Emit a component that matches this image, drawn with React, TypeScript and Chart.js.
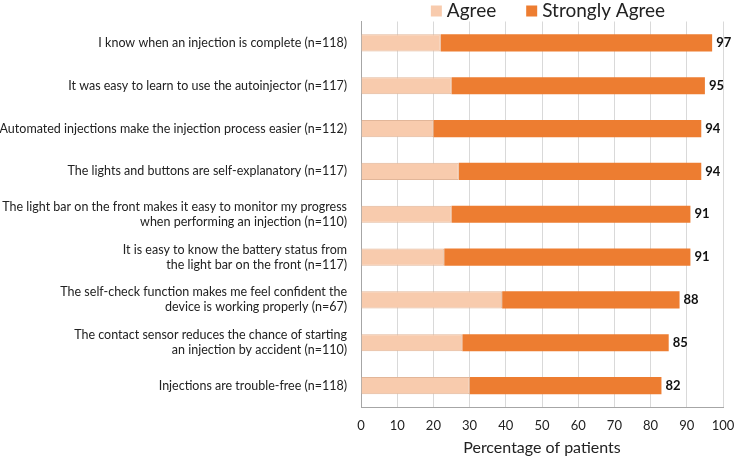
import React, { useEffect, useRef } from "react";
import { Chart, registerables } from "chart.js";

Chart.register(...registerables);

const categories: (string | string[])[] = [
  "I know when an injection is complete (n=118)",
  "It was easy to learn to use the autoinjector (n=117)",
  "Automated injections make the injection process easier (n=112)",
  "The lights and buttons are self-explanatory (n=117)",
  ["The light bar on the front makes it easy to monitor my progress", "when performing an injection (n=110)"],
  ["It is easy to know the battery status from", "the light bar on the front (n=117)"],
  ["The self-check function makes me feel confident the", "device is working properly (n=67)"],
  ["The contact sensor reduces the chance of starting", "an injection by accident (n=110)"],
  "Injections are trouble-free (n=118)",
];

const seriesNames = ["Agree", "Strongly Agree"];
const seriesColors = ["#F8CBAD", "#ED7D31"];
const agree = [22, 25, 20, 27, 25, 23, 39, 28, 30];
const stronglyAgree = [75, 70, 74, 67, 66, 68, 49, 57, 53];
const totalLabels = ["97", "95", "94", "94", "91", "91", "88", "85", "82"];
const xTicks = [0, 10, 20, 30, 40, 50, 60, 70, 80, 90, 100];

const FONT = "Lato, 'Noto Sans', sans-serif";

const totalsPlugin = {
  id: "totals",
  afterDatasetsDraw(chart: any) {
    const meta = chart.getDatasetMeta(1);
    const ctx = chart.ctx;
    ctx.save();
    ctx.font = `bold 13px ${FONT}`;
    ctx.fillStyle = "#111";
    ctx.textAlign = "left";
    ctx.textBaseline = "middle";
    meta.data.forEach((el: any, i: number) => {
      ctx.fillText(totalLabels[i], el.x + 4, el.y);
    });
    ctx.restore();
  },
};

const legendPlugin = {
  id: "customLegend",
  afterDraw(chart: any) {
    const ctx = chart.ctx;
    const area = chart.chartArea;
    ctx.save();
    ctx.font = `19px ${FONT}`;
    ctx.textBaseline = "middle";
    ctx.textAlign = "left";
    const box = 11;
    const gap = 5;
    const itemGap = 30;
    const widths = seriesNames.map((n) => box + gap + ctx.measureText(n).width);
    const total = widths.reduce((a, b) => a + b, 0) + itemGap * (widths.length - 1);
    let x = (area.left + area.right) / 2 + 6 - total / 2;
    const cy = 11;
    seriesNames.forEach((n, i) => {
      ctx.fillStyle = seriesColors[i];
      ctx.fillRect(x, cy - box / 2, box, box);
      ctx.fillStyle = "#222";
      ctx.fillText(n, x + box + gap, cy);
      x += widths[i] + itemGap;
    });
    ctx.restore();
  },
};

export default function App() {
  const ref = useRef<HTMLCanvasElement>(null);
  useEffect(() => {
    document.body.style.margin = "0";
    const chart = new Chart(ref.current!, {
      type: "bar",
      data: {
        labels: categories,
        datasets: [
          {
            label: seriesNames[0],
            data: agree,
            backgroundColor: seriesColors[0],
            borderColor: "#E2B699",
            borderWidth: 1,
            categoryPercentage: 1,
            barPercentage: 0.4,
          },
          {
            label: seriesNames[1],
            data: stronglyAgree,
            backgroundColor: seriesColors[1],
            borderColor: seriesColors[1],
            borderWidth: 0,
            categoryPercentage: 1,
            barPercentage: 0.4,
          },
        ],
      },
      options: {
        indexAxis: "y",
        animation: false,
        responsive: false,
        maintainAspectRatio: false,
        layout: { padding: { top: 16, right: 11, bottom: 0, left: 0 } },
        plugins: {
          legend: { display: false },
          tooltip: { enabled: false },
        },
        scales: {
          x: {
            stacked: true,
            min: 0,
            max: 100,
            afterBuildTicks: (s: any) => {
              s.ticks = xTicks.map((v) => ({ value: v }));
            },
            afterFit: (s: any) => {
              s.paddingLeft = 0;
              s.paddingRight = 0;
              s.height = 61;
            },
            grid: { color: "#D9D9D9", drawTicks: false },
            border: { color: "#A6A6A6" },
            ticks: { font: { family: FONT, size: 13 }, color: "#222", padding: 11 },
            title: {
              display: true,
              text: "Percentage of patients",
              font: { family: FONT, size: 16 },
              color: "#222",
              padding: { top: 4, bottom: 11 },
            },
          },
          y: {
            stacked: true,
            grid: { display: false, drawTicks: false },
            border: { color: "#A6A6A6" },
            afterFit: (s: any) => {
              s.width = 361;
            },
            ticks: { font: { family: FONT, size: 12.5 }, color: "#222", padding: 14, autoSkip: false },
          },
        },
      },
      plugins: [totalsPlugin, legendPlugin],
    } as any);
    return () => chart.destroy();
  }, []);
  return (
    <div style={{ width: 734, height: 468 }}>
      <canvas ref={ref} width={734} height={468} style={{ width: 734, height: 468 }} />
    </div>
  );
}
